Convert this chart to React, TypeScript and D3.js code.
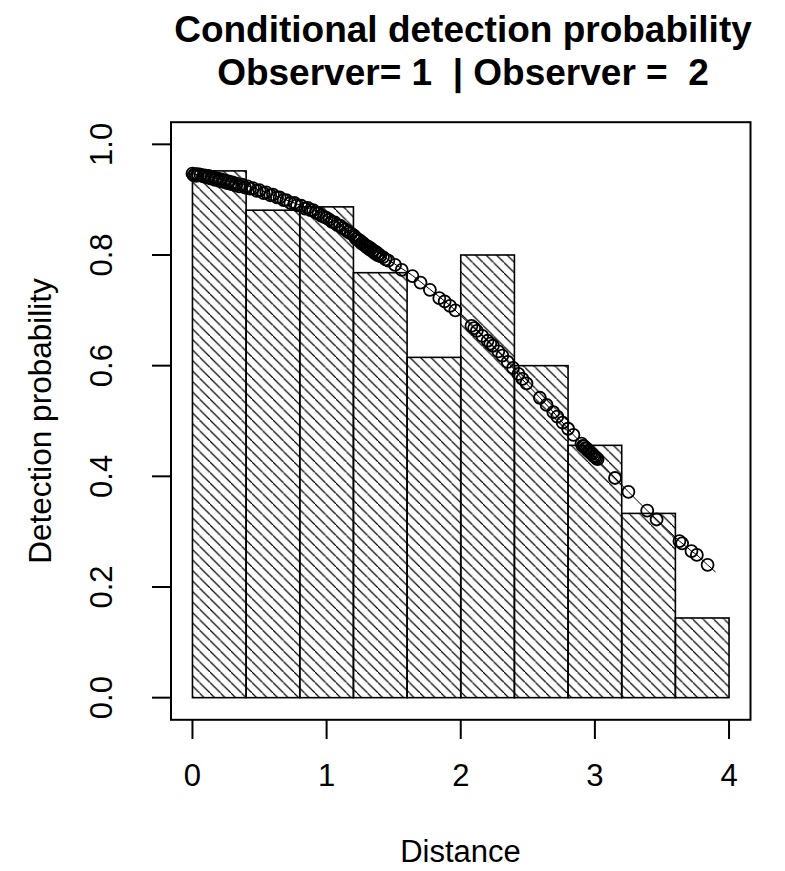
import { useEffect, useRef } from 'react'
import * as d3 from 'd3'

// histogram bins (width 0.4) and heights
const binStarts = [0, 0.4, 0.8, 1.2, 1.6, 2.0, 2.4, 2.8, 3.2, 3.6]
const binWidth = 0.4
const binHeights = [0.952, 0.881, 0.887, 0.768, 0.615, 0.8, 0.6, 0.456, 0.333, 0.144]

// observed detections: distance and conditional detection probability
const obsDistance = [
  0.0, 0.01, 0.02, 0.03, 0.04, 0.06, 0.08, 0.09, 0.11, 0.12, 0.14, 0.15, 0.17, 0.18, 0.2, 0.21, 0.23,
  0.24, 0.26, 0.27, 0.29, 0.3, 0.32, 0.33, 0.35, 0.37, 0.39, 0.41, 0.43,
  0.45, 0.48, 0.5, 0.53, 0.55, 0.58, 0.6, 0.63, 0.65, 0.68, 0.7, 0.73, 0.76, 0.78, 0.81, 0.84, 0.86, 0.88, 0.9,
  0.92, 0.94, 0.96, 0.98, 1.0, 1.02, 1.04, 1.06, 1.08, 1.1, 1.12,
  1.14, 1.16, 1.18, 1.2, 1.21, 1.22, 1.23, 1.24, 1.25, 1.26, 1.27, 1.28, 1.29, 1.3, 1.31, 1.32, 1.33, 1.34,
  1.35, 1.36, 1.37, 1.38, 1.39, 1.4, 1.42, 1.44, 1.46, 1.51,
  1.56, 1.64, 1.7, 1.77, 1.84, 1.88, 1.92, 1.96, 2.08, 2.1, 2.12, 2.16, 2.2, 2.22, 2.24, 2.28, 2.31,
  2.35, 2.39, 2.43, 2.46, 2.49, 2.59, 2.64, 2.69, 2.72, 2.76, 2.8, 2.84, 2.9, 2.91, 2.92, 2.93, 2.94,
  2.95, 2.96, 2.97, 2.98, 2.99, 3.0, 3.01, 3.02, 3.15, 3.25, 3.39, 3.46, 3.63, 3.65, 3.72, 3.76, 3.84,
]
const obsProb = [
  0.947, 0.944, 0.946, 0.943, 0.946, 0.945, 0.942, 0.944, 0.94, 0.943, 0.938, 0.941, 0.936, 0.939, 0.934, 0.937, 0.932,
  0.935, 0.93, 0.933, 0.928, 0.931, 0.926, 0.929, 0.924, 0.927, 0.922, 0.924, 0.92,
  0.921, 0.916, 0.917, 0.912, 0.913, 0.908, 0.909, 0.904, 0.904, 0.899, 0.899, 0.894, 0.894, 0.89, 0.889, 0.884, 0.885, 0.881, 0.881,
  0.877, 0.875, 0.871, 0.869, 0.867, 0.864, 0.86, 0.859, 0.854, 0.853, 0.849,
  0.846, 0.842, 0.839, 0.836, 0.833, 0.829, 0.829, 0.826, 0.826, 0.821, 0.822, 0.818, 0.818, 0.814, 0.815, 0.81, 0.812, 0.807,
  0.808, 0.803, 0.805, 0.8, 0.801, 0.798, 0.796, 0.792, 0.79, 0.782,
  0.773, 0.762, 0.75, 0.737, 0.722, 0.716, 0.708, 0.7, 0.672, 0.668, 0.663, 0.654, 0.645, 0.64, 0.636, 0.626, 0.618,
  0.607, 0.596, 0.585, 0.576, 0.568, 0.542, 0.529, 0.516, 0.508, 0.497, 0.486, 0.475, 0.459, 0.455, 0.454, 0.451, 0.45,
  0.446, 0.445, 0.442, 0.44, 0.437, 0.435, 0.433, 0.431, 0.397, 0.372, 0.338, 0.322, 0.283, 0.279, 0.265, 0.258, 0.24,
]

// fitted line
const fitDistance = [0, 0.2, 0.4, 0.65, 0.9, 1.1, 1.2, 1.35, 1.5, 1.64, 1.77, 1.92, 2.08, 2.2, 2.31, 2.46, 2.59, 2.69, 2.84, 2.98, 3.15, 3.25, 3.39, 3.46, 3.63, 3.72, 3.76, 3.84, 3.9]
const fitProb = [0.947, 0.937, 0.926, 0.904, 0.881, 0.855, 0.835, 0.81, 0.785, 0.763, 0.738, 0.709, 0.672, 0.645, 0.618, 0.575, 0.542, 0.516, 0.475, 0.44, 0.397, 0.372, 0.338, 0.322, 0.283, 0.265, 0.258, 0.24, 0.227]

const xTicks = [0, 1, 2, 3, 4]
const yTicks = [0, 0.2, 0.4, 0.6, 0.8, 1.0]

const titleLines = ['Conditional detection probability', 'Observer= 1  | Observer =  2']
const xLabel = 'Distance'
const yLabel = 'Detection probability'

const width = 785
const height = 871
const font = '"Liberation Sans", Arial, sans-serif'

export default function App() {
  const svgRef = useRef<SVGSVGElement>(null)

  useEffect(() => {
    document.body.style.margin = '0'
    const svg = d3.select(svgRef.current)
    svg.selectAll('*').remove()

    const x = d3.scaleLinear().domain([-0.16, 4.16]).range([171, 750.5])
    const y = d3.scaleLinear().domain([-0.04, 1.04]).range([719.8, 122.2])

    // hatch pattern
    const sp = 10.5
    const pat = svg.append('defs').append('pattern')
      .attr('id', 'hatch')
      .attr('patternUnits', 'userSpaceOnUse')
      .attr('width', sp)
      .attr('height', sp)
    pat.append('path')
      .attr('d', `M0,0L${sp},${sp}M${-sp},0L0,${sp}M${sp},${-sp}L${2 * sp},${sp}`)
      .attr('stroke', '#000')
      .attr('stroke-width', 1.2)

    const bins = binStarts.map((s, i) => ({ x0: s, x1: s + binWidth, h: binHeights[i] }))

    svg.append('g').selectAll('rect')
      .data(bins)
      .join('rect')
      .attr('x', d => x(d.x0))
      .attr('y', d => y(d.h))
      .attr('width', d => x(d.x1) - x(d.x0))
      .attr('height', d => y(0) - y(d.h))
      .attr('fill', 'url(#hatch)')
      .attr('stroke', '#000')
      .attr('stroke-width', 1.6)

    // fitted line
    const line = d3.line<number>()
      .x(d => x(d))
      .y((d, i) => y(fitProb[i]))
    svg.append('path')
      .datum(fitDistance)
      .attr('d', line)
      .attr('fill', 'none')
      .attr('stroke', '#000')
      .attr('stroke-width', 1)

    // observed points
    svg.append('g').selectAll('circle')
      .data(obsDistance.map((d, i) => [d, obsProb[i]]))
      .join('circle')
      .attr('cx', d => x(d[0]))
      .attr('cy', d => y(d[1]))
      .attr('r', 6)
      .attr('fill', 'none')
      .attr('stroke', '#000')
      .attr('stroke-width', 1.8)

    // box
    svg.append('rect')
      .attr('x', 171)
      .attr('y', 122.2)
      .attr('width', 750.5 - 171)
      .attr('height', 719.8 - 122.2)
      .attr('fill', 'none')
      .attr('stroke', '#000')
      .attr('stroke-width', 2)

    // x axis
    const xa = svg.append('g')
    xa.selectAll('line')
      .data(xTicks)
      .join('line')
      .attr('x1', d => x(d)).attr('x2', d => x(d))
      .attr('y1', 719.8).attr('y2', 739)
      .attr('stroke', '#000').attr('stroke-width', 2)
    xa.selectAll('text')
      .data(xTicks)
      .join('text')
      .attr('x', d => x(d))
      .attr('y', 786)
      .attr('text-anchor', 'middle')
      .style('font-family', font)
      .style('font-size', '31px')
      .text(d => String(d))

    // y axis
    const ya = svg.append('g')
    ya.selectAll('line')
      .data(yTicks)
      .join('line')
      .attr('x1', 152).attr('x2', 171)
      .attr('y1', d => y(d)).attr('y2', d => y(d))
      .attr('stroke', '#000').attr('stroke-width', 2)
    ya.selectAll('text')
      .data(yTicks)
      .join('text')
      .attr('transform', d => `translate(112,${y(d)}) rotate(-90)`)
      .attr('text-anchor', 'middle')
      .style('font-family', font)
      .style('font-size', '31px')
      .text(d => d.toFixed(1))

    // labels
    svg.append('text')
      .attr('x', 460.5)
      .attr('y', 862)
      .attr('text-anchor', 'middle')
      .style('font-family', font)
      .style('font-size', '31px')
      .text(xLabel)
    svg.append('text')
      .attr('transform', `translate(51,421) rotate(-90)`)
      .attr('text-anchor', 'middle')
      .style('font-family', font)
      .style('font-size', '31.5px')
      .text(yLabel)

    svg.append('g').selectAll('text')
      .data(titleLines)
      .join('text')
      .attr('x', 463)
      .attr('y', (d, i) => 42 + i * 43)
      .attr('text-anchor', 'middle')
      .attr('xml:space', 'preserve')
      .style('white-space', 'pre')
      .style('font-family', font)
      .style('font-size', '37px')
      .style('font-weight', 'bold')
      .text(d => d)
  }, [])

  return <svg ref={svgRef} width={width} height={height} style={{ display: 'block' }} />
}
